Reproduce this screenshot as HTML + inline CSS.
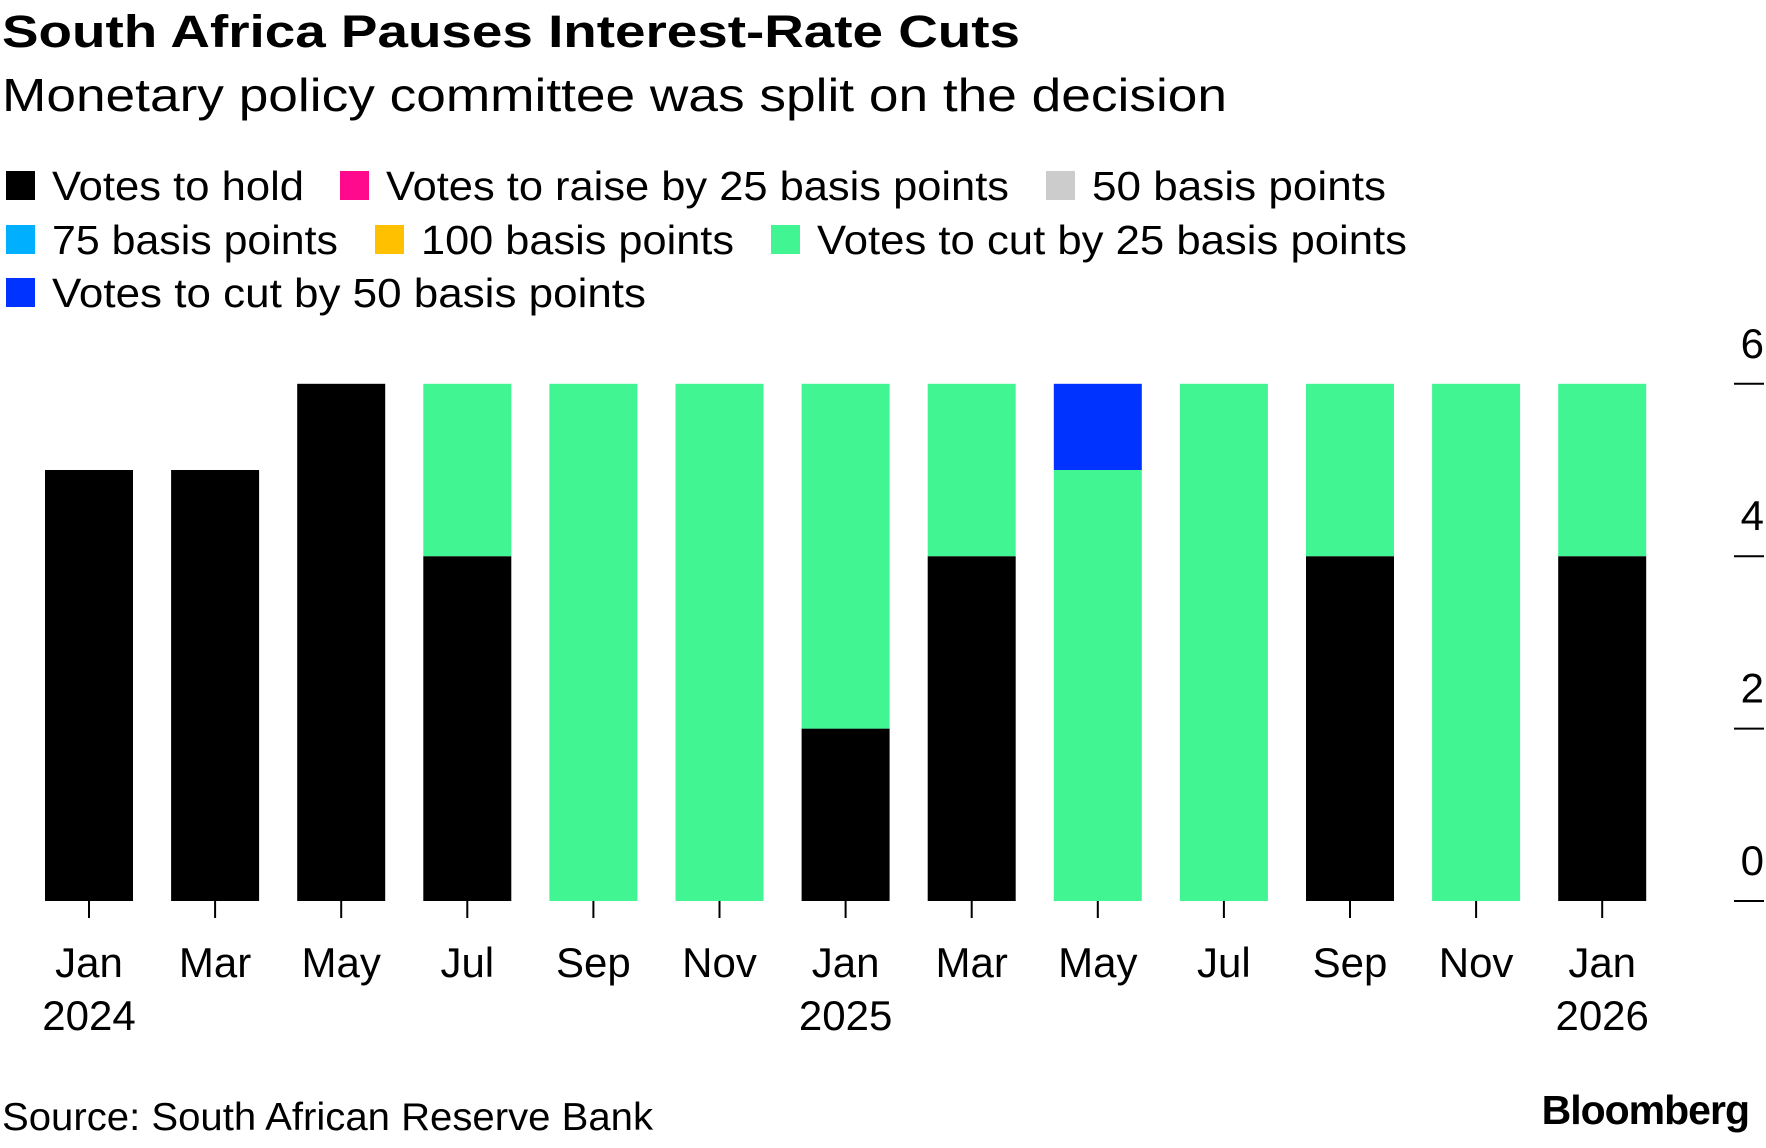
<!DOCTYPE html>
<html><head><meta charset="utf-8">
<style>
html,body{margin:0;padding:0;background:#fff;}
body{width:1766px;height:1143px;overflow:hidden;font-family:"Liberation Sans",sans-serif;}
</style></head>
<body>
<svg id="chart" width="1766" height="1143" xmlns="http://www.w3.org/2000/svg" font-family="Liberation Sans, sans-serif">
<text x="2" y="47" font-size="45" font-weight="bold" fill="#000" textLength="1018" lengthAdjust="spacingAndGlyphs">South Africa Pauses Interest-Rate Cuts</text>
<text x="2" y="111" font-size="46" fill="#000" textLength="1225" lengthAdjust="spacingAndGlyphs">Monetary policy committee was split on the decision</text>
<g id="legend"></g>
<g id="bars"></g>
<g id="axes"></g>
<text x="2" y="1130" font-size="39" fill="#000" textLength="651" lengthAdjust="spacingAndGlyphs">Source: South African Reserve Bank</text>
<text x="1749" y="1124" font-size="41" font-weight="bold" fill="#000" text-anchor="end" letter-spacing="-1">Bloomberg</text>
</svg>
<script>
const months = ["Jan","Mar","May","Jul","Sep","Nov","Jan","Mar","May","Jul","Sep","Nov","Jan"];
const years = ["2024","","","","","","2025","","","","","","2026"];
const holdVotes = [5,5,6,4,0,0,2,4,0,0,4,0,4];
const cut25Votes = [0,0,0,2,6,6,4,2,5,6,2,6,2];
const cut50Votes = [0,0,0,0,0,0,0,0,1,0,0,0,0];
const yTicks = [0,2,4,6];
const legendLabels = ["Votes to hold","Votes to raise by 25 basis points","50 basis points","75 basis points","100 basis points","Votes to cut by 25 basis points","Votes to cut by 50 basis points"];

const NS="http://www.w3.org/2000/svg";
const colors=["#000000","#ff0a8c","#cccccc","#00b0ff","#ffc000","#40f592","#0033ff"];
const legendPos=[[6,186],[340,186],[1046,186],[6,240],[375,240],[771,240],[6,293]];
const legendW=[252,623,294,286,313,590,594];
const baseY=901, unit=86.2, x0=89, pitch=126.1, bw=88;
const y=v=>baseY-v*unit;
const x=i=>x0+i*pitch;
function mk(tag,attrs,parent){const e=document.createElementNS(NS,tag);for(const k in attrs)e.setAttribute(k,attrs[k]);parent.appendChild(e);return e;}

const lg=document.getElementById('legend');
legendLabels.forEach((l,i)=>{
  const [lx,ly]=legendPos[i];
  const r=mk('rect',{x:lx,y:ly-15,width:29,height:29,fill:colors[i]},lg);
  
  
  const t=mk('text',{x:lx+46,y:ly+14,'font-size':41,fill:'#000',textLength:legendW[i],lengthAdjust:'spacingAndGlyphs'},lg);
  t.textContent=l;
  
  
});

const bg=document.getElementById('bars');
months.forEach((m,i)=>{
  let acc=0;
  [[holdVotes,colors[0],'bar-hold'],[cut25Votes,colors[5],'bar-cut25'],[cut50Votes,colors[6],'bar-cut50']].forEach(([arr,c,n])=>{
    const v=arr[i]; if(!v) return;
    const r=mk('rect',{x:x(i)-bw/2,y:y(acc+v),width:bw,height:y(acc)-y(acc+v),fill:c},bg);
    
    
    acc+=v;
  });
});

const ax=document.getElementById('axes');
months.forEach((m,i)=>{
  const tk=mk('line',{x1:x(i),x2:x(i),y1:baseY,y2:baseY+17,stroke:'#000','stroke-width':2},ax);
  
  
  const t=mk('text',{x:x(i),y:977,'font-size':42,'text-anchor':'middle',fill:'#000'},ax);
  t.textContent=m;
  
  
  if(years[i]){
    const ty=mk('text',{x:x(i),y:1030,'font-size':42,'text-anchor':'middle',fill:'#000'},ax);
    ty.textContent=years[i];
    
    
  }
});
yTicks.forEach(v=>{
  const l=mk('line',{x1:1734,x2:1764,y1:y(v),y2:y(v),stroke:'#000','stroke-width':2},ax);
  
  
  const t=mk('text',{x:1764,y:y(v)-26,'font-size':42,'text-anchor':'end',fill:'#000'},ax);
  t.textContent=v;
  
  
});
</script>
</body></html>
